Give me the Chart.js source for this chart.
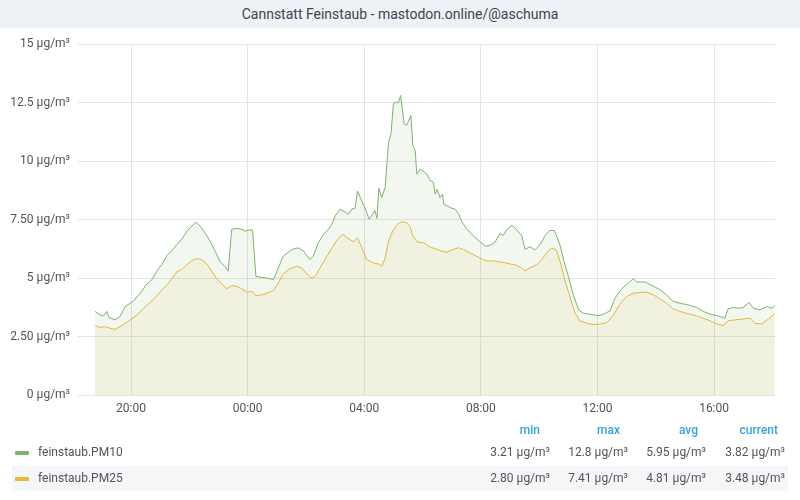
<!DOCTYPE html>
<html>
<head>
<meta charset="utf-8">
<script src="https://cdn.jsdelivr.net/npm/chart.js@4"></script>
<style>
  body { margin: 0; width: 800px; height: 500px; background: #fff; font-family: Roboto, "Noto Sans", sans-serif; position: relative; overflow: hidden; }
  #title { position: absolute; left: 0; top: 0; width: 800px; height: 28px; background: #eef1f6; color: #3f444b; font-size: 14px; font-weight: 400; text-align: center; line-height: 28px; }
  #chartBox { position: absolute; left: 0; top: 28px; width: 800px; height: 392px; }
  #legend { position: absolute; left: 0; top: 418px; width: 800px; font-size: 12px; color: #52545c; }
  .row { position: absolute; left: 12px; width: 776px; height: 25px; line-height: 25px; }
  .row.alt { background: #f5f6f8; }
  .swatch { position: absolute; left: 3px; top: 11px; width: 14px; height: 4px; border-radius: 1px; }
  .name { position: absolute; left: 26px; }
  .cell { position: absolute; text-align: right; width: 90px; }
  .head { color: #33a2e5; font-weight: 500; }
</style>
</head>
<body>
<div id="title">Cannstatt Feinstaub - mastodon.online/@aschuma</div>
<div id="chartBox"><canvas id="chart" width="800" height="392"></canvas></div>
<div id="legend"></div>
<script>
const pm10Times = ['18:46','18:56','19:03','19:10','19:15','19:27','19:37','19:48','19:58','20:04','20:19','20:32','20:43','20:53','21:03','21:13','21:24','21:34','21:44','21:55','22:05','22:13','22:22','22:32','22:43','22:53','23:03','23:13','23:20','23:27','23:38','23:48','23:55','00:01','00:10','00:17','00:29','00:39','00:53','01:03','01:13','01:31','01:44','01:55','02:08','02:15','02:25','02:36','02:46','02:53','03:00','03:10','03:20','03:27','03:34','03:41','03:46','03:55','04:04','04:10','04:17','04:22','04:26','04:30','04:36','04:43','04:50','04:55','05:00','05:07','05:10','05:15','05:22','05:27','05:36','05:40','05:45','05:48','05:55','06:09','06:15','06:22','06:26','06:30','06:36','06:41','06:44','06:57','07:07','07:14','07:21','07:31','07:45','07:58','08:09','08:19','08:29','08:39','08:46','08:54','09:04','09:14','09:24','09:31','09:41','09:51','10:02','10:12','10:22','10:31','10:36','10:43','10:50','11:00','11:10','11:21','11:31','11:45','11:58','12:05','12:15','12:26','12:36','12:50','13:03','13:14','13:21','13:38','13:52','14:09','14:22','14:36','14:50','15:07','15:24','15:38','15:52','16:09','16:22','16:29','16:39','16:50','17:00','17:12','17:21','17:34','17:48','17:59','18:05'];
const pm10Values = [3.57,3.42,3.38,3.57,3.31,3.21,3.35,3.78,3.92,4.00,4.35,4.74,4.93,5.29,5.57,5.93,6.17,6.43,6.65,7.00,7.22,7.39,7.22,6.93,6.57,6.15,5.72,5.50,5.29,7.08,7.12,7.08,7.00,7.05,7.05,5.07,5.03,5.00,4.93,5.43,5.93,6.22,6.29,6.15,5.79,5.93,6.50,6.86,7.08,7.29,7.65,7.94,7.83,7.72,7.94,7.98,8.72,8.29,7.86,7.51,7.72,7.89,7.55,8.84,8.44,8.87,10.80,11.16,12.45,12.52,12.49,12.80,11.59,11.52,11.95,10.66,10.44,9.44,9.66,9.44,9.18,9.10,8.58,8.80,8.44,8.58,8.15,8.01,7.94,7.75,7.40,7.10,6.79,6.55,6.36,6.40,6.53,6.90,6.82,7.08,7.26,7.05,6.82,6.22,6.34,6.20,6.43,6.80,7.04,7.02,6.80,6.40,5.80,5.07,4.30,3.64,3.50,3.45,3.40,3.40,3.48,3.60,4.14,4.54,4.78,4.97,4.83,4.83,4.68,4.50,4.28,4.00,3.92,3.85,3.74,3.57,3.45,3.38,3.28,3.68,3.74,3.71,3.74,3.95,3.71,3.64,3.78,3.71,3.82];

const pm25Times = ['18:46','18:56','19:06','19:17','19:27','19:37','19:48','19:58','20:12','20:25','20:39','20:53','21:06','21:20','21:34','21:44','21:55','22:05','22:15','22:25','22:36','22:46','22:56','23:07','23:17','23:27','23:38','23:48','23:58','00:10','00:17','00:29','00:39','00:53','01:03','01:13','01:27','01:41','01:51','02:02','02:10','02:19','02:29','02:43','02:56','03:07','03:16','03:25','03:38','03:46','03:55','04:05','04:19','04:29','04:36','04:43','04:50','04:59','05:08','05:17','05:27','05:34','05:40','05:49','06:02','06:15','06:29','06:39','06:50','07:00','07:14','07:24','07:38','07:51','08:05','08:15','08:26','08:36','08:46','09:00','09:10','09:21','09:31','09:41','09:55','10:08','10:19','10:26','10:35','10:43','10:53','11:04','11:14','11:24','11:38','11:51','12:05','12:19','12:33','12:46','13:00','13:14','13:28','13:41','13:55','14:09','14:22','14:36','14:50','15:07','15:24','15:38','15:52','16:05','16:19','16:29','16:43','17:00','17:14','17:24','17:38','17:52','18:05'];
const pm25Values = [2.97,2.89,2.92,2.85,2.80,2.92,3.06,3.21,3.42,3.68,3.95,4.24,4.54,4.86,5.26,5.36,5.57,5.74,5.83,5.79,5.60,5.29,4.97,4.74,4.54,4.67,4.64,4.54,4.40,4.43,4.24,4.28,4.35,4.46,4.78,5.17,5.40,5.50,5.43,5.17,5.00,5.07,5.43,5.93,6.36,6.72,6.86,6.72,6.54,6.72,6.29,5.79,5.64,5.60,5.50,5.86,6.57,7.03,7.29,7.41,7.36,7.22,6.79,6.54,6.50,6.33,6.22,6.15,6.10,6.20,6.29,6.22,6.07,5.93,5.79,5.72,5.74,5.69,5.67,5.60,5.57,5.46,5.31,5.43,5.57,5.86,6.17,6.27,6.20,5.72,4.90,4.14,3.50,3.17,3.07,3.01,3.03,3.08,3.42,3.88,4.21,4.35,4.38,4.40,4.28,4.11,3.92,3.68,3.57,3.47,3.38,3.28,3.17,3.04,2.97,3.17,3.21,3.25,3.28,3.06,3.04,3.25,3.48];

const xTickHours = [20, 24, 28, 32, 36, 40];
const yTickValues = [0, 2.5, 5, 7.5, 10, 12.5, 15];
const yTickLabels = ['0 µg/m³', '2.50 µg/m³', '5 µg/m³', '7.50 µg/m³', '10 µg/m³', '12.5 µg/m³', '15 µg/m³'];

const seriesNames = ['feinstaub.PM10', 'feinstaub.PM25'];
const seriesColors = ['#7eb26d', '#eab839'];
const statHeaders = ['min', 'max', 'avg', 'current'];
const pm10Stats = ['3.21 µg/m³', '12.8 µg/m³', '5.95 µg/m³', '3.82 µg/m³'];
const pm25Stats = ['2.80 µg/m³', '7.41 µg/m³', '4.81 µg/m³', '3.48 µg/m³'];

// "HH:MM" in fortlaufende Stunden umrechnen (nach Mitternacht +24)
function toHours(times) {
    let offset = 0, prev = -1;
    return times.map(t => {
        const [h, m] = t.split(':').map(Number);
        let v = h + m / 60 + offset;
        if (v < prev) { offset += 24; v += 24; }
        prev = v;
        return v;
    });
}

function toPoints(times, values) {
    const hrs = toHours(times);
    return hrs.map((x, i) => ({ x: x, y: values[i] }));
}

const gridColor = '#e4e4e4';
const tickColor = '#52545c';

new Chart(document.getElementById('chart').getContext('2d'), {
    type: 'line',
    data: {
        datasets: [
            {
                label: seriesNames[0],
                data: toPoints(pm10Times, pm10Values),
                borderColor: seriesColors[0],
                backgroundColor: 'rgba(126, 178, 109, 0.1)',
                borderWidth: 1,
                fill: 'origin',
                pointRadius: 0,
                tension: 0
            },
            {
                label: seriesNames[1],
                data: toPoints(pm25Times, pm25Values),
                borderColor: seriesColors[1],
                backgroundColor: 'rgba(234, 184, 57, 0.1)',
                borderWidth: 1,
                fill: 'origin',
                pointRadius: 0,
                tension: 0
            }
        ]
    },
    options: {
        responsive: false,
        animation: false,
        layout: { padding: { top: 16, right: 25, left: 0, bottom: 0 } },
        plugins: { legend: { display: false }, tooltip: { enabled: false } },
        scales: {
            x: {
                type: 'linear',
                min: 18.18,
                max: 42.09,
                afterBuildTicks: axis => { axis.ticks = xTickHours.map(v => ({ value: v })); },
                afterFit: axis => { axis.height = 25; },
                ticks: {
                    color: tickColor,
                    font: { family: 'Roboto', size: 12 },
                    padding: 7,
                    maxRotation: 0,
                    callback: v => String(v % 24).padStart(2, '0') + ':00'
                },
                grid: { color: gridColor, drawTicks: false },
                border: { display: false }
            },
            y: {
                min: 0,
                max: 15,
                afterBuildTicks: axis => { axis.ticks = yTickValues.map(v => ({ value: v })); },
                afterFit: axis => { axis.width = 78; },
                ticks: {
                    color: tickColor,
                    font: { family: 'Roboto', size: 12 },
                    padding: 8,
                    callback: (v) => yTickLabels[yTickValues.indexOf(v)]
                },
                grid: { color: gridColor, drawTicks: false },
                border: { display: false }
            }
        }
    }
});

// Legende als Tabelle unter dem Diagramm
const legend = document.getElementById('legend');
const colRight = [550, 628, 706, 785];
const headRight = [540, 620, 698, 778];

function addCell(parent, text, right, cls) {
    const c = document.createElement('div');
    c.className = 'cell ' + (cls || '');
    c.textContent = text;
    c.style.left = (right - 12 - 90) + 'px';
    parent.appendChild(c);
}

const head = document.createElement('div');
head.className = 'row';
head.style.top = '0px';
statHeaders.forEach((h, i) => addCell(head, h, headRight[i], 'head'));
legend.appendChild(head);

[pm10Stats, pm25Stats].forEach((stats, r) => {
    const row = document.createElement('div');
    row.className = 'row' + (r === 1 ? ' alt' : '');
    row.style.top = (22 + r * 26) + 'px';
    const sw = document.createElement('div');
    sw.className = 'swatch';
    sw.style.background = seriesColors[r];
    row.appendChild(sw);
    const nm = document.createElement('div');
    nm.className = 'name';
    nm.textContent = seriesNames[r];
    row.appendChild(nm);
    stats.forEach((s, i) => addCell(row, s, colRight[i]));
    legend.appendChild(row);
});
</script>
</body>
</html>
